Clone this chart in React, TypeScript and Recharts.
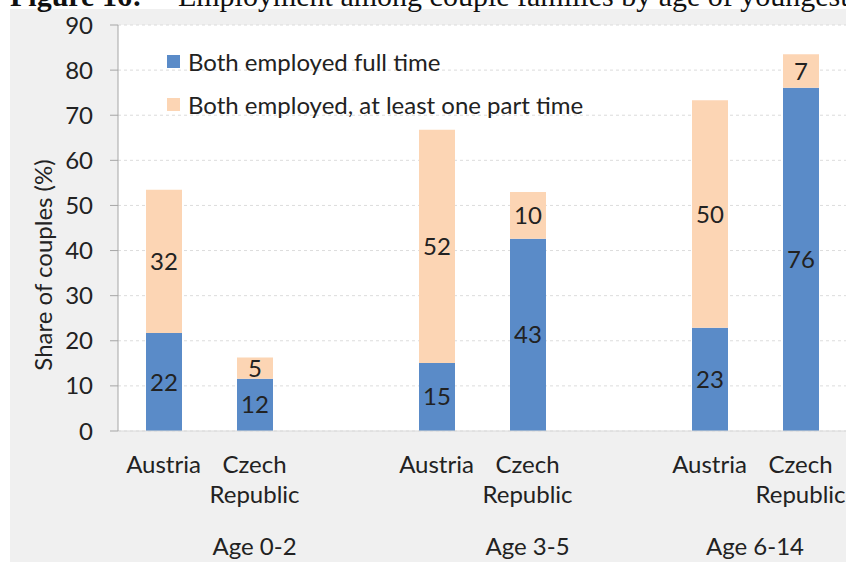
import { BarChart, Bar, XAxis, YAxis, CartesianGrid, LabelList, Label } from "recharts";

// slots: Austria / Czech Republic per age group, blank slot between groups
const categories = ["Austria", "Czech Republic", "", "Austria", "Czech Republic", "", "Austria", "Czech Republic"];
const fullTime = [21.7, 11.6, null, 15.1, 42.6, null, 22.9, 76.1];
const partTime = [31.8, 4.7, null, 51.7, 10.4, null, 50.4, 7.4];

const ageGroups = ["Age 0-2", "Age 3-5", "Age 6-14"];
const groupStart = [0, 3, 6];
const groupEnd = [3, 6, 8];

const yTicks = [0, 10, 20, 30, 40, 50, 60, 70, 80, 90];

const seriesNames = ["Both employed full time", "Both employed, at least one part time"];
const BLUE = "#5a8bc8";
const PEACH = "#fcd5b4";
const FONT = "Lato, 'Open Sans', sans-serif";
const FS = 24;

const data = categories.map((c, i) => ({
  name: c,
  full: fullTime[i],
  part: partTime[i],
}));

// country name (two lines for Czech Republic) + the age group label under the group's first slot
function CountryTick({ x, y, payload, index }: any) {
  const lines = String(payload.value).split(" ");
  const g = groupStart.indexOf(index);
  const band = (payload.offset || 0) * 2;
  const gx = g >= 0 ? x + ((groupEnd[g] - groupStart[g]) / 2 - 0.5) * band : 0;
  return (
    <g>
      <text x={x} y={y} textAnchor="middle" fill="#222" fontSize={FS} fontFamily={FONT}>
        {lines.map((l, i) => (
          <tspan key={i} x={x} dy={i === 0 ? 42 : 30}>
            {l}
          </tspan>
        ))}
      </text>
      {g >= 0 && (
        <text x={gx} y={y + 124} textAnchor="middle" fill="#222" fontSize={FS} fontFamily={FONT}>
          {ageGroups[g]}
        </text>
      )}
    </g>
  );
}

function LegendBox() {
  const colors = [BLUE, PEACH];
  return (
    <div style={{ position: "absolute", left: 167, top: 40, fontFamily: FONT, fontSize: FS, color: "#222" }}>
      {seriesNames.map((n, i) => (
        <div key={n} style={{ display: "flex", alignItems: "center", height: 43, whiteSpace: "nowrap" }}>
          <span style={{ width: 13, height: 13, background: colors[i], marginRight: 8, display: "inline-block" }} />
          <span>{n}</span>
        </div>
      ))}
    </div>
  );
}

export default function App() {
  return (
    <div style={{ position: "absolute", left: 0, top: 0, width: 846, height: 562, background: "#fff", overflow: "hidden" }}>
      <div style={{ position: "absolute", left: 10, top: 9, right: 0, bottom: 0, background: "#f0f0f0" }} />
      <div
        style={{
          position: "absolute",
          left: 10,
          top: -19,
          fontFamily: "'Liberation Serif', 'Times New Roman', serif",
          fontSize: 30,
          lineHeight: "30px",
          whiteSpace: "nowrap",
          color: "#111",
        }}
      >
        <b>Figure 16:</b>
        <span style={{ marginLeft: 36 }}>Employment among couple families by age of youngest child</span>
      </div>
      <BarChart
        width={846}
        height={562}
        data={data}
        margin={{ top: 25, right: 0, bottom: 0, left: 0 }}
        style={{ position: "absolute", left: 0, top: 0 }}
      >
        <CartesianGrid vertical={false} stroke="#dcdcdc" strokeDasharray="3 3" fill="#fff" />
        <XAxis
          dataKey="name"
          height={131}
          interval={0}
          tickSize={0}
          tickMargin={0}
          axisLine={{ stroke: "#d9d9d9" }}
          tick={<CountryTick />}
        />
        <YAxis
          width={118}
          domain={[0, 90]}
          ticks={yTicks}
          interval={0}
          tickSize={8}
          tickMargin={17}
          axisLine={{ stroke: "#a6a6a6" }}
          tickLine={{ stroke: "#a6a6a6" }}
          tick={{ fill: "#222", fontSize: FS, fontFamily: FONT }}
        >
          <Label
            content={() => (
              <text
                x={42}
                y={265}
                transform="rotate(-90, 42, 265)"
                textAnchor="middle"
                dominantBaseline="central"
                fill="#222"
                fontSize={FS}
                fontFamily={FONT}
              >
                Share of couples (%)
              </text>
            )}
          />
        </YAxis>
        <Bar dataKey="full" name={seriesNames[0]} stackId="a" fill={BLUE} barSize={36} isAnimationActive={false}>
          <LabelList
            dataKey="full"
            position="center"
            formatter={(v: any) => (v == null ? "" : Math.round(v))}
            fill="#222"
            fontSize={FS}
            fontFamily={FONT}
          />
        </Bar>
        <Bar dataKey="part" name={seriesNames[1]} stackId="a" fill={PEACH} barSize={36} isAnimationActive={false}>
          <LabelList
            dataKey="part"
            position="center"
            formatter={(v: any) => (v == null ? "" : Math.round(v))}
            fill="#222"
            fontSize={FS}
            fontFamily={FONT}
          />
        </Bar>
      </BarChart>
      <LegendBox />
    </div>
  );
}
